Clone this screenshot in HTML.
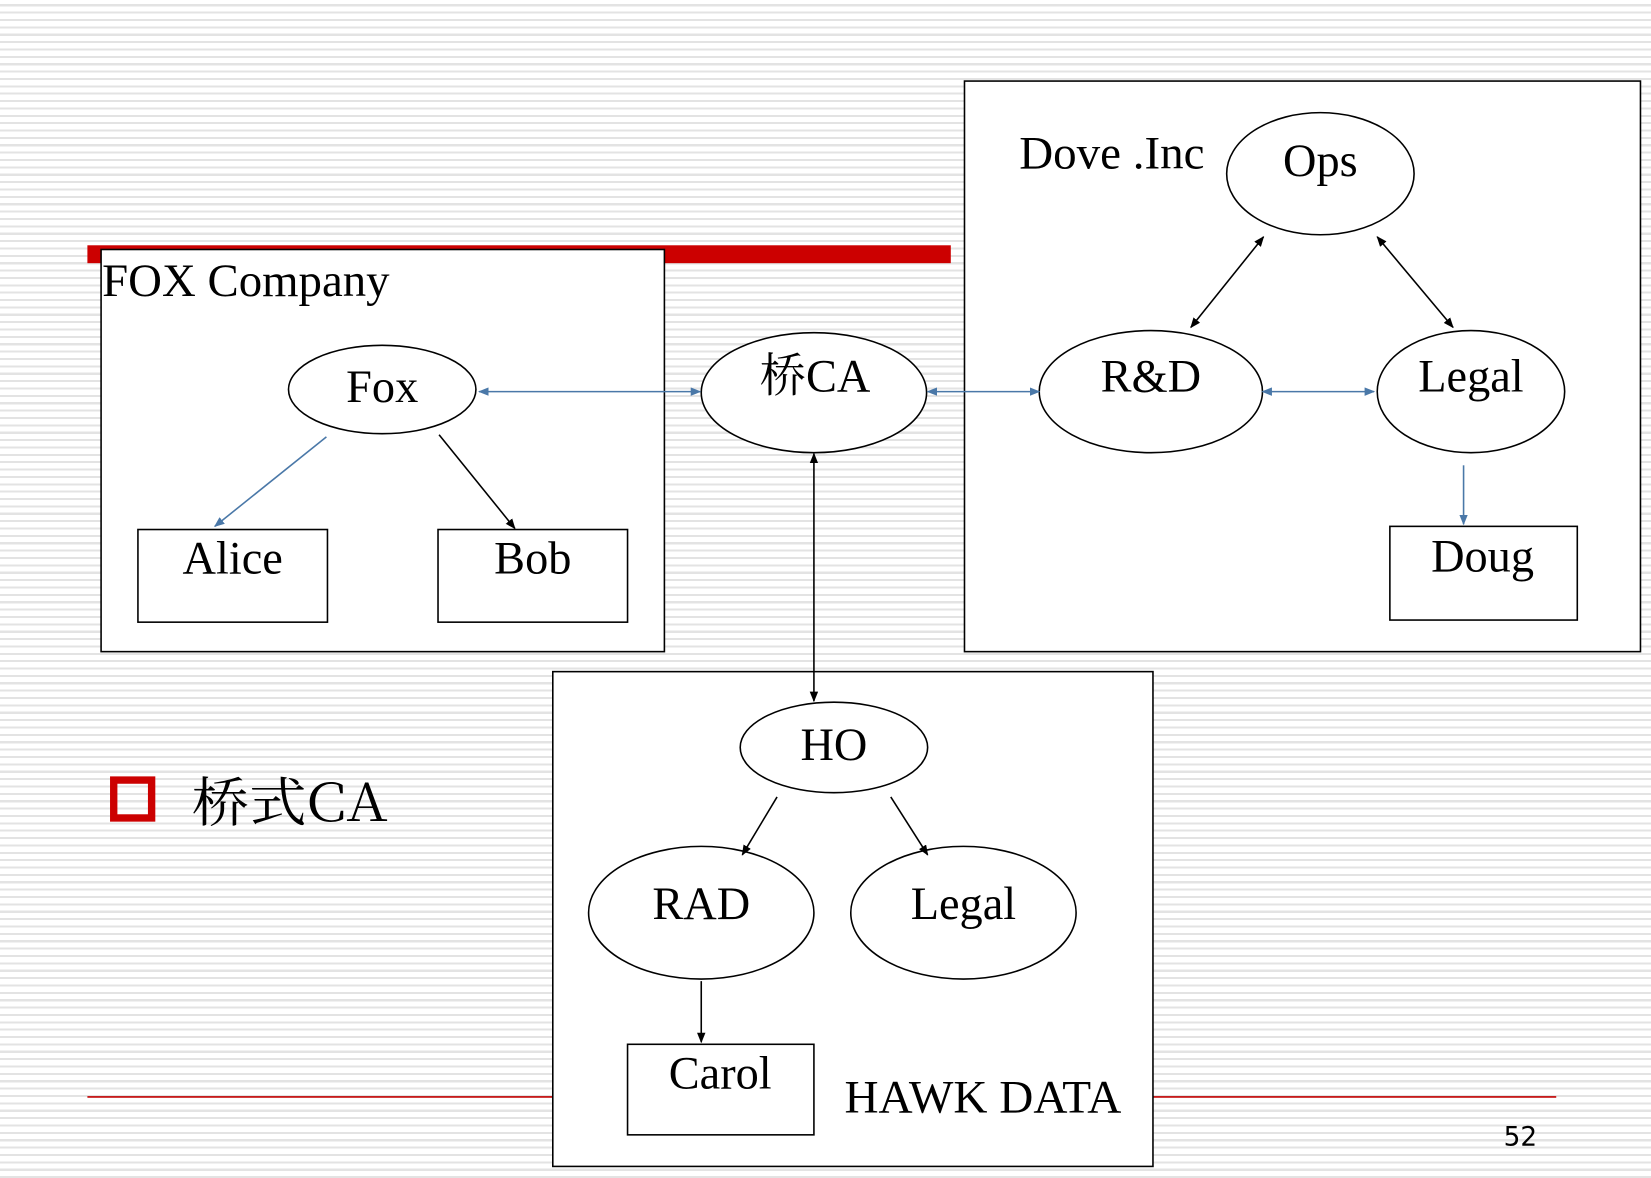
<!DOCTYPE html>
<html><head><meta charset="utf-8"><style>
html,body{margin:0;padding:0;}
body{width:1651px;height:1178px;overflow:hidden;background:#fff repeating-linear-gradient(180deg,#fff 0px,#fff 4.2px,#e3e3e3 4.2px,#e3e3e3 6.3px,#fff 6.3px,#fff 7.37px);}
svg{position:absolute;left:0;top:0;}
text{font-family:"Liberation Serif",serif;font-size:44px;fill:#000;}
</style></head><body>
<svg width="1651" height="1178" viewBox="0 0 1568 1119" preserveAspectRatio="none">
<defs>
<marker id="ab" markerWidth="10" markerHeight="8" refX="9" refY="4" orient="auto-start-reverse" markerUnits="userSpaceOnUse"><path d="M0,0 L10,4 L0,8 z" fill="#4a78a8"/></marker>
<marker id="ak" markerWidth="10" markerHeight="8" refX="9" refY="4" orient="auto-start-reverse" markerUnits="userSpaceOnUse"><path d="M0,0 L10,4 L0,8 z" fill="#000"/></marker>
</defs>
<rect x="83" y="233" width="820" height="17" fill="#cc0000"/>
<line x1="83" y1="1042" x2="1478" y2="1042" stroke="#c00000" stroke-width="1.5"/>
<text x="1428" y="1088" style="font-family:'DejaVu Sans',sans-serif;font-size:25px">52</text>
<rect x="108" y="741" width="36" height="36" fill="none" stroke="#cc0000" stroke-width="7"/>
<text x="182" y="780" textLength="186" lengthAdjust="spacingAndGlyphs" style="font-family:'Noto Serif CJK SC','Liberation Mono',serif;font-size:50px">桥式CA</text>

<g fill="#fff" stroke="#000" stroke-width="1.5">
<rect x="96" y="237" width="535" height="382"/>
<rect x="916" y="77" width="642" height="542"/>
<rect x="525" y="638" width="570" height="470"/>
<ellipse cx="363" cy="370" rx="89" ry="42"/>
<ellipse cx="773" cy="373" rx="107" ry="57"/>
<ellipse cx="1093" cy="372" rx="106" ry="58"/>
<ellipse cx="1397" cy="372" rx="89" ry="58"/>
<ellipse cx="1254" cy="165" rx="89" ry="58"/>
<ellipse cx="792" cy="710" rx="89" ry="43"/>
<ellipse cx="666" cy="867" rx="107" ry="63"/>
<ellipse cx="915" cy="867" rx="107" ry="63"/>
<rect x="131" y="503" width="180" height="88"/>
<rect x="416" y="503" width="180" height="88"/>
<rect x="1320" y="500" width="178" height="89"/>
<rect x="596" y="992" width="177" height="86"/>
</g>

<g stroke="#4a78a8" stroke-width="1.5" fill="none">
<line x1="455" y1="372" x2="665" y2="372" marker-start="url(#ab)" marker-end="url(#ab)"/>
<line x1="881" y1="372" x2="987" y2="372" marker-start="url(#ab)" marker-end="url(#ab)"/>
<line x1="1199" y1="372" x2="1305" y2="372" marker-start="url(#ab)" marker-end="url(#ab)"/>
<line x1="1390" y1="442" x2="1390" y2="498" marker-end="url(#ab)"/>
<line x1="310" y1="415" x2="204" y2="500" marker-end="url(#ab)"/>
</g>
<g stroke="#000" stroke-width="1.5" fill="none">
<line x1="417" y1="413" x2="489" y2="502" marker-end="url(#ak)"/>
<line x1="1200" y1="225" x2="1131" y2="311" marker-start="url(#ak)" marker-end="url(#ak)"/>
<line x1="1308" y1="225" x2="1380" y2="311" marker-start="url(#ak)" marker-end="url(#ak)"/>
<line x1="773" y1="431" x2="773" y2="666" marker-start="url(#ak)" marker-end="url(#ak)"/>
<line x1="738" y1="757" x2="705" y2="812" marker-end="url(#ak)"/>
<line x1="846" y1="757" x2="881" y2="812" marker-end="url(#ak)"/>
<line x1="666" y1="932" x2="666" y2="990" marker-end="url(#ak)"/>
</g>

<text x="97" y="281" textLength="273" lengthAdjust="spacingAndGlyphs">FOX Company</text>
<text x="968" y="160" textLength="176" lengthAdjust="spacingAndGlyphs">Dove .Inc</text>
<text x="802" y="1057" textLength="263" lengthAdjust="spacingAndGlyphs">HAWK DATA</text>
<g text-anchor="middle">
<text x="363" y="382">Fox</text>
<text x="774" y="372" style="font-family:'Liberation Serif','Noto Serif CJK SC',serif">桥CA</text>
<text x="1093" y="372">R&amp;D</text>
<text x="1397" y="372">Legal</text>
<text x="1254" y="167">Ops</text>
<text x="792" y="722">HO</text>
<text x="666" y="873">RAD</text>
<text x="915" y="873">Legal</text>
<text x="221" y="545">Alice</text>
<text x="506" y="545">Bob</text>
<text x="1408" y="543">Doug</text>
<text x="684" y="1034">Carol</text>
</g>
</svg>
</body></html>
